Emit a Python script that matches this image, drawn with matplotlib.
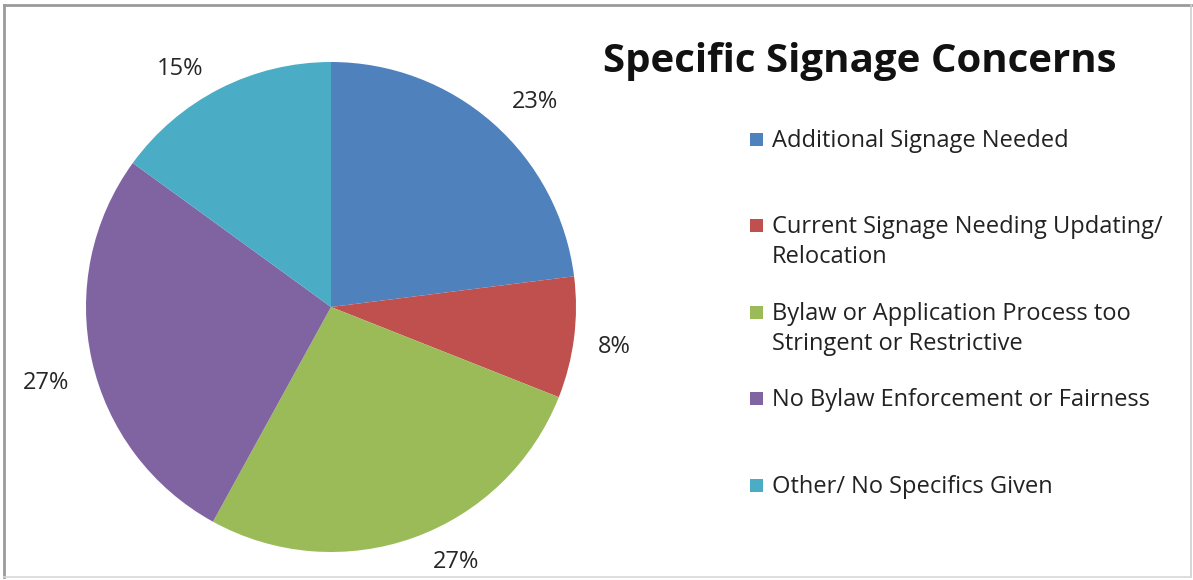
import matplotlib
matplotlib.use("Agg")
import matplotlib.pyplot as plt
from matplotlib.patches import Rectangle

categories = [
    "Additional Signage Needed",
    "Current Signage Needing Updating/\nRelocation",
    "Bylaw or Application Process too\nStringent or Restrictive",
    "No Bylaw Enforcement or Fairness",
    "Other/ No Specifics Given",
]
shares = [23, 8, 27, 27, 15]
colors = ["#4F81BD", "#C0504D", "#9BBB59", "#8064A2", "#4BACC6"]
title = "Specific Signage Concerns"

W, H = 1193, 580
plt.rcParams["font.family"] = ["Open Sans", "DejaVu Sans"]
fig = plt.figure(figsize=(W / 100, H / 100), dpi=100)
fig.patch.set_facecolor("white")

# pie axes placed in pixel space: centre (331, 307), radius 245
cx, cy, r = 331, 307, 245
ax = fig.add_axes([(cx - r) / W, (H - cy - r) / H, 2 * r / W, 2 * r / H])
wedges, texts, autotexts = ax.pie(
    shares, colors=colors, startangle=90, counterclock=False,
    autopct=lambda p: f"{p:.0f}%", pctdistance=1.16,
    wedgeprops=dict(linewidth=0),
    textprops=dict(fontsize=17, color="#262626"),
)
ax.set_xlim(-1, 1)
ax.set_ylim(-1, 1)
ax.set_aspect("equal")
ax.axis("off")

# best-fit label positions around the rim (pixel centres -> unit-radius coords)
label_px = [(535, 102), (614, 347), (456, 562), (46, 383), (180, 69)]
for t, (px, py) in zip(autotexts, label_px):
    t.set_position(((px - cx) / r, (cy - py) / r))
    t.set_clip_on(False)

# title
fig.text(860 / W, 1 - 72 / H, title, ha="center", va="baseline",
         fontsize=29, fontweight="bold", color="#111111")

# legend entries: one coloured square plus one or two text lines each
baselines = [147, 233, 320, 406, 493]
line_step = 30
for lab, col, yb in zip(categories, colors, baselines):
    fig.patches.append(Rectangle((750 / W, 1 - (yb - 1) / H), 13 / W, 13 / H,
                                 transform=fig.transFigure, facecolor=col,
                                 edgecolor="none"))
    for i, line in enumerate(lab.split("\n")):
        fig.text(772 / W, 1 - (yb + i * line_step) / H, line, ha="left",
                 va="baseline", fontsize=17, color="#222222")

# outer frame: darker top/left edges, faint right/bottom edges
fig.add_artist(plt.Line2D([4 / W, 4 / W], [3 / H, 1 - 5 / H],
                          transform=fig.transFigure, color="#9a9a9a", lw=2))
fig.add_artist(plt.Line2D([4 / W, 1191 / W], [1 - 5 / H, 1 - 5 / H],
                          transform=fig.transFigure, color="#9a9a9a", lw=2))
fig.add_artist(plt.Line2D([1191 / W, 1191 / W], [3 / H, 1 - 5 / H],
                          transform=fig.transFigure, color="#d0d0d0", lw=1.2))
fig.add_artist(plt.Line2D([4 / W, 1191 / W], [3 / H, 3 / H],
                          transform=fig.transFigure, color="#d8d8d8", lw=1.2))

fig.savefig("out.png", dpi=100, facecolor="white")
